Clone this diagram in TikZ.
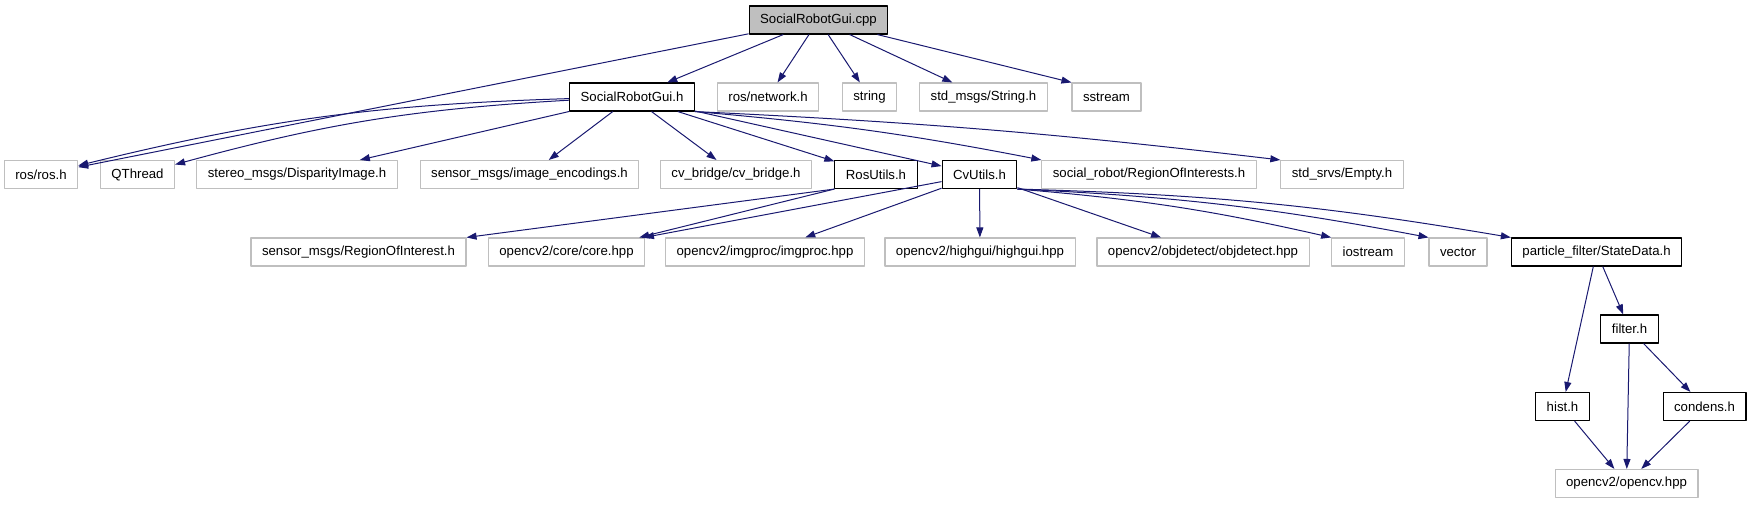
\documentclass[tikz,border=0pt]{standalone}
\usepackage{fontspec}
\setmainfont{Liberation Sans}
\usetikzlibrary{arrows.meta}
\definecolor{edgeblue}{HTML}{191970}
\definecolor{boxgrey}{HTML}{BFBFBF}
\tikzset{
	docfile/.style={draw=black,line width=1.1pt,fill=white,rectangle,minimum height=28pt,inner xsep=11pt,inner ysep=0pt,font=\fontsize{13.2}{15}\selectfont},
	extfile/.style={docfile,draw=boxgrey,line width=1.1pt},
	mainfile/.style={docfile,fill=boxgrey},
	incl/.style={->,draw=edgeblue,line width=1pt}
}
\begin{document}
\begin{tikzpicture}[x=1pt,y=-1pt,line join=round,>={Triangle[length=10pt,width=7pt]}]
	\useasboundingbox (0,0) rectangle (1752,504);
	% top rows
	\node[mainfile] (cpp) at (818.5,20) {SocialRobotGui.cpp};
	\node[docfile] (guih) at (632,97) {SocialRobotGui.h};
	\node[extfile] (network) at (768,97) {ros/network.h};
	\node[extfile] (string) at (869.5,97) {string};
	\node[extfile] (stdstring) at (983.5,97) {std\_msgs/String.h};
	\node[extfile] (sstream) at (1106.5,97) {sstream};
	% third row
	\node[extfile] (ros) at (41,174.5) {ros/ros.h};
	\node[extfile] (qthread) at (137.5,174.5) {QThread};
	\node[extfile] (disparity) at (297,174.5) {stereo\_msgs/DisparityImage.h};
	\node[extfile] (encodings) at (529.5,174.5) {sensor\_msgs/image\_encodings.h};
	\node[extfile] (cvbridge) at (736,174.5) {cv\_bridge/cv\_bridge.h};
	\node[docfile] (rosutils) at (876,174.5) {RosUtils.h};
	\node[docfile] (cvutils) at (979.5,174.5) {CvUtils.h};
	\node[extfile] (rois) at (1149,174.5) {social\_robot/RegionOfInterests.h};
	\node[extfile] (empty) at (1342,174.5) {std\_srvs/Empty.h};
	% fourth row
	\node[extfile] (roi) at (358.5,252) {sensor\_msgs/RegionOfInterest.h};
	\node[extfile] (core) at (566.5,252) {opencv2/core/core.hpp};
	\node[extfile] (imgproc) at (765,252) {opencv2/imgproc/imgproc.hpp};
	\node[extfile] (highgui) at (980,252) {opencv2/highgui/highgui.hpp};
	\node[extfile] (objdetect) at (1203,252) {opencv2/objdetect/objdetect.hpp};
	\node[extfile] (iostream) at (1368,252) {iostream};
	\node[extfile] (vector) at (1458,252) {vector};
	\node[docfile] (statedata) at (1596.5,252) {particle\_filter/StateData.h};
	% filter part
	\node[docfile] (filter) at (1629.5,329) {filter.h};
	\node[docfile] (hist) at (1562.5,406.5) {hist.h};
	\node[docfile] (condens) at (1704.5,406.5) {condens.h};
	\node[extfile] (opencv) at (1626.5,483.5) {opencv2/opencv.hpp};
	% includes of the cpp file
	\draw[incl] (cpp) -- (guih);
	\draw[incl] (cpp) -- (ros);
	\draw[incl] (cpp) -- (network);
	\draw[incl] (cpp) -- (string);
	\draw[incl] (cpp) -- (stdstring);
	\draw[incl] (cpp) -- (sstream.north west);
	% includes of the header
	\draw[incl] (guih) to[bend right=6] (ros);
	\draw[incl] (guih) to[bend right=6] (qthread);
	\draw[incl] (guih) -- (disparity);
	\draw[incl] (guih) -- (encodings);
	\draw[incl] (guih) -- (cvbridge);
	\draw[incl] (guih) -- (rosutils);
	\draw[incl] (guih) -- (cvutils);
	\draw[incl] (guih.south east) to[bend left=3] (rois.north west);
	\draw[incl] (guih.south east) to[bend left=2] (empty.north west);
	% RosUtils and CvUtils
	\draw[incl] (rosutils.south west) -- (roi.north east);
	\draw[incl] (rosutils.south west) -- ([xshift=-6pt]core.north east);
	\draw[incl] (cvutils) -- (core);
	\draw[incl] (cvutils) -- (imgproc);
	\draw[incl] (cvutils) -- (highgui);
	\draw[incl] (cvutils) -- (objdetect);
	\draw[incl] (cvutils.south east) to[bend left=4] (iostream.north west);
	\draw[incl] (cvutils.south east) to[bend left=4] (vector.north west);
	\draw[incl] (cvutils.south east) to[bend left=4] (statedata.north west);
	% particle filter
	\draw[incl] (statedata) -- (hist);
	\draw[incl] (statedata) -- (filter);
	\draw[incl] (filter) -- (condens);
	\draw[incl] (filter) -- (opencv);
	\draw[incl] (hist) -- (opencv);
	\draw[incl] (condens) -- (opencv);
\end{tikzpicture}
\end{document}
